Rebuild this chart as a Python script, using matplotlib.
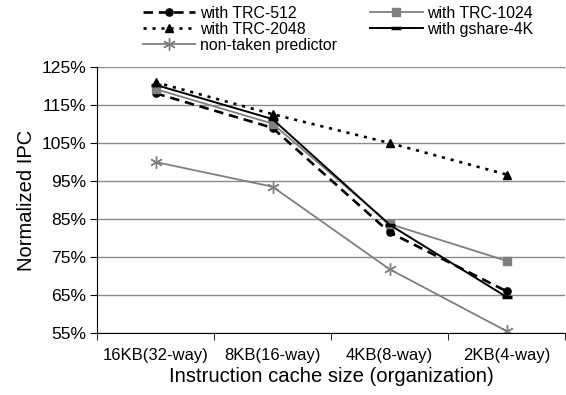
import matplotlib
matplotlib.use("Agg")
import matplotlib.pyplot as plt
import numpy as np

categories = ["16KB(32-way)", "8KB(16-way)", "4KB(8-way)", "2KB(4-way)"]
trc512 = [118.1, 109.0, 81.5, 66.0]
trc1024 = [119.2, 110.1, 83.7, 74.0]
trc2048 = [121.0, 112.6, 105.0, 96.7]
gshare4k = [120.3, 111.3, 83.5, 64.5]
nontaken = [100.0, 93.5, 71.8, 55.5]
yticks = [55, 65, 75, 85, 95, 105, 115, 125]

plt.rcParams['font.family'] = ['Liberation Sans', 'DejaVu Sans']

W, H = 566, 395
fig = plt.figure(figsize=(W/100, H/100), dpi=100)
L, R, T, B = 97, 565, 67, 333
ax = fig.add_axes([L/W, 1 - B/H, (R-L)/W, (B-T)/H])

x = np.arange(len(categories))
gray = '#7f7f7f'
l1, = ax.plot(x, trc512, color='black', lw=1.9, dashes=(3.6, 2.2), marker='o', ms=5.2,
              label='with TRC-512')
l2, = ax.plot(x, trc1024, color=gray, lw=1.3, marker='s', ms=5.2, label='with TRC-1024')
l3, = ax.plot(x, trc2048, color='black', lw=1.9, dashes=(1.2, 2.2), marker='^', ms=6,
              label='with TRC-2048')
l4, = ax.plot(x, gshare4k, color='black', lw=1.4, marker='_', ms=7, mew=2.5,
              label='with gshare-4K')
l5, = ax.plot(x, nontaken, color=gray, lw=1.3, marker=(6, 2, 0), ms=9, mew=1,
              label='non-taken predictor')

ax.set_ylim(55, 125)
ax.set_yticks(yticks)
ax.set_yticklabels([f"{v}%" for v in yticks], fontsize=12.6)
ax.set_xlim(-0.5, len(categories) - 0.5)
ax.set_xticks(x)
ax.set_xticklabels(categories, fontsize=12)
ax.tick_params(axis='x', length=0, pad=11)
ax.set_xticks(np.arange(-0.5, len(categories)), minor=True)
ax.tick_params(axis='x', which='minor', length=5, direction='out')
ax.tick_params(axis='y', length=5, direction='out', pad=3)
ax.yaxis.grid(True, color='#8a8a8a', lw=1)
ax.set_axisbelow(True)
for s in ['top', 'right']:
    ax.spines[s].set_visible(False)
ax.set_ylabel("Normalized IPC", fontsize=14.5, labelpad=4)
ax.set_xlabel("Instruction cache size (organization)", fontsize=14.6, labelpad=3)

fig.legend(handles=[l1, l3, l5, l2, l4], ncol=2, loc='upper left',
           bbox_to_anchor=(143/W, 1 - 6/H), frameon=False, fontsize=11.4,
           handlelength=3.3, handletextpad=0.3, labelspacing=0.05,
           columnspacing=2.1, borderaxespad=0, borderpad=0)

fig.savefig("out.png", dpi=100)
